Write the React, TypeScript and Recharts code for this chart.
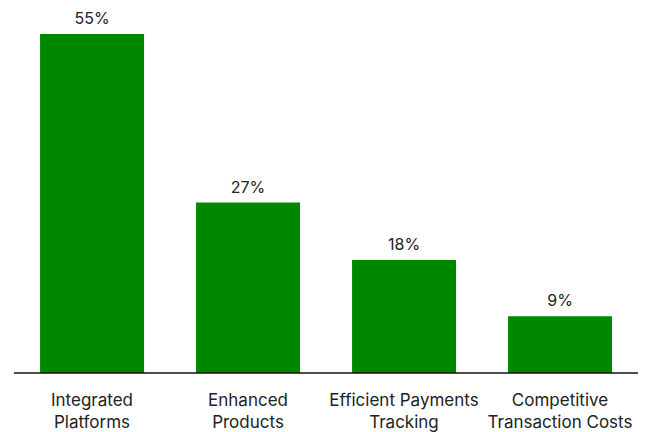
import { BarChart, Bar, XAxis, YAxis, LabelList } from 'recharts';

const categories = [
  ['Integrated', 'Platforms'],
  ['Enhanced', 'Products'],
  ['Efficient Payments', 'Tracking'],
  ['Competitive', 'Transaction Costs'],
];
const shares = [53.7, 27, 17.9, 9];
const shareLabels = ['55%', '27%', '18%', '9%'];

const data = categories.map((c, i) => ({
  name: c.join(' '),
  value: shares[i],
  label: shareLabels[i],
}));

const FONT = 'Inter, "Noto Sans", sans-serif';
const GREEN = '#008700';

function CategoryTick({ x, y, payload }: any) {
  const lines = categories[payload.index] ?? [payload.value];
  return (
    <text x={x} y={y} textAnchor="middle" fill="#222" fontSize={17} fontFamily={FONT}>
      {lines.map((l, i) => (
        <tspan key={i} x={x} dy={i === 0 ? 25 : 22}>
          {l}
        </tspan>
      ))}
    </text>
  );
}

export default function App() {
  return (
    <div style={{ position: 'absolute', left: 0, top: 0, background: '#fff' }}>
      <BarChart
        width={649}
        height={432}
        data={data}
        margin={{ top: 34, right: 11, bottom: 0, left: 14 }}
        barCategoryGap="16.7%"
      >
        <XAxis
          dataKey="name"
          axisLine={{ stroke: '#111', strokeWidth: 1.5 }}
          tickLine={false}
          tick={<CategoryTick />}
          interval={0}
          height={59}
        />
        <YAxis hide domain={[0, 'dataMax']} />
        <Bar dataKey="value" fill={GREEN} isAnimationActive={false}>
          <LabelList
            dataKey="label"
            position="top"
            offset={10}
            fill="#222"
            fontSize={16}
            fontFamily={FONT}
          />
        </Bar>
      </BarChart>
    </div>
  );
}
